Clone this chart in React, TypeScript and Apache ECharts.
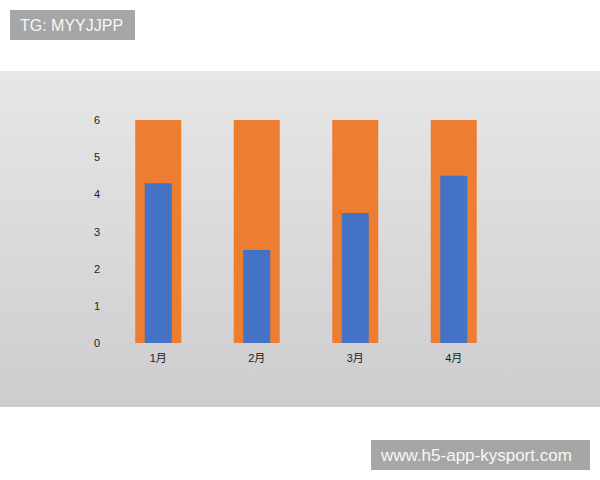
import { useEffect, useRef } from "react";
import * as echarts from "echarts";

const categories = ["1月", "2月", "3月", "4月"];
const totalValues = [6, 6, 6, 6];
const actualValues = [4.3, 2.5, 3.5, 4.5];

const ORANGE = "#ed7d31";
const BLUE = "#4472c4";
const BOX_GRAY = "#a6a6a6";
const FONT = "'Liberation Sans', 'Noto Sans CJK SC', sans-serif";

function buildOption(): echarts.EChartsOption {
  const axisLabel = { color: "#222", fontSize: 11, fontFamily: FONT };
  return {
    animation: false,
    backgroundColor: "#ffffff",
    graphic: [
      // 灰色漸層底板
      {
        type: "rect",
        z: -10,
        shape: { x: 0, y: 71, width: 600, height: 336 },
        style: {
          fill: new echarts.graphic.LinearGradient(0, 0, 0, 1, [
            { offset: 0, color: "#e7e7e7" },
            { offset: 1, color: "#cdcdcf" },
          ]),
        },
      },
      {
        type: "rect",
        shape: { x: 10, y: 10, width: 125, height: 30 },
        style: { fill: BOX_GRAY },
      },
      {
        type: "text",
        x: 20,
        y: 25,
        style: {
          text: "TG: MYYJJPP",
          fill: "#f7f7f7",
          fontSize: 16,
          fontFamily: "'Liberation Sans', sans-serif",
          verticalAlign: "middle",
        },
      },
      {
        type: "rect",
        shape: { x: 371, y: 440, width: 219, height: 30 },
        style: { fill: BOX_GRAY },
      },
      {
        type: "text",
        x: 381,
        y: 455,
        style: {
          text: "www.h5-app-kysport.com",
          fill: "#f7f7f7",
          fontSize: 17,
          fontFamily: "'Liberation Sans', sans-serif",
          verticalAlign: "middle",
        },
      },
    ],
    grid: { left: 109, right: 97, top: 120, bottom: 137 },
    xAxis: [
      {
        type: "category",
        data: categories,
        axisLine: { show: false },
        axisTick: { show: false },
        axisLabel: { ...axisLabel, margin: 9 },
      },
      {
        type: "category",
        data: categories,
        show: false,
      },
    ],
    yAxis: {
      type: "value",
      min: 0,
      max: 6,
      interval: 1,
      axisLine: { show: false },
      axisTick: { show: false },
      splitLine: { show: false },
      axisLabel: { ...axisLabel, margin: 9 },
    },
    series: [
      {
        type: "bar",
        xAxisIndex: 0,
        data: totalValues,
        barWidth: 46,
        itemStyle: { color: ORANGE },
      },
      {
        type: "bar",
        xAxisIndex: 1,
        data: actualValues,
        barWidth: 27,
        itemStyle: { color: BLUE },
      },
    ],
  };
}

export default function App() {
  const ref = useRef<HTMLDivElement | null>(null);

  useEffect(() => {
    const el = ref.current;
    if (!el) return;
    const chart = echarts.init(el, undefined, { renderer: "svg" });
    chart.setOption(buildOption());
    return () => {
      chart.dispose();
    };
  }, []);

  return (
    <div
      ref={ref}
      style={{ position: "absolute", left: 0, top: 0, width: 600, height: 480 }}
    />
  );
}
